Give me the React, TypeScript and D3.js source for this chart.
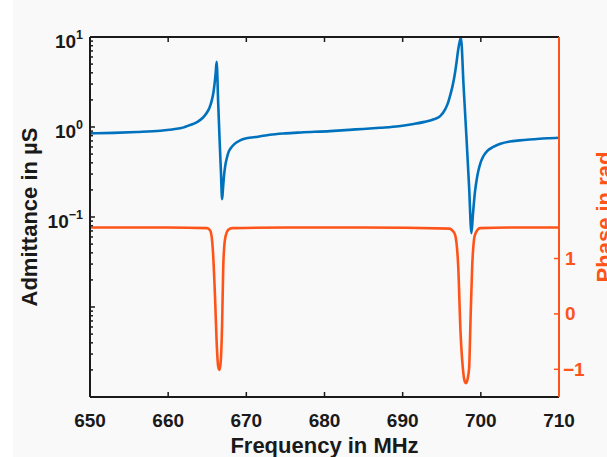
import React from "react";
import * as d3 from "d3";

// Admittance magnitude (µS) over frequency (MHz)
const admFreq = [
  650.0, 653.0, 656.0, 659.0, 660.5, 662.0, 662.5, 663.3, 663.8, 664.4, 664.9, 665.3,
  665.6, 665.8, 665.95, 666.08, 666.2, 666.4, 666.58, 666.75, 666.9, 667.0, 667.15,
  667.3, 667.5, 667.7, 668.0, 668.5, 669.2, 670.0, 671.5, 673.0, 675.0, 677.0, 680.7,
  684.0, 687.1, 689.5, 691.4, 692.8, 693.9, 694.8, 695.4, 695.8, 696.05, 696.4, 696.7,
  696.9, 697.1, 697.3, 697.45, 697.8, 698.15, 698.5, 698.8, 699.0, 699.25, 699.5,
  699.7, 700.0, 700.3, 700.8, 701.6, 702.5, 703.7, 705.0, 706.7, 708.5, 710.0,
];
const admittance = [
  0.85, 0.86, 0.88, 0.91, 0.94, 0.99, 1.03, 1.09, 1.15, 1.26, 1.42, 1.65,
  2.0, 2.45, 3.1, 4.0, 5.3, 1.85, 0.72, 0.32, 0.158, 0.2, 0.29,
  0.37, 0.45, 0.52, 0.58, 0.65, 0.71, 0.75, 0.78, 0.82, 0.85, 0.87, 0.9,
  0.94, 0.98, 1.02, 1.08, 1.14, 1.21, 1.32, 1.55, 1.85, 2.2, 2.9, 4.0,
  5.3, 7.2, 8.9, 9.8, 2.78, 0.8, 0.215, 0.066, 0.11, 0.19, 0.27,
  0.33, 0.41, 0.47, 0.54, 0.6, 0.65, 0.69, 0.71, 0.73, 0.75, 0.76,
];

// Phase (rad) over frequency (MHz)
const phaseFreq = [
  650.0, 660.0, 665.0, 665.4, 665.7, 666.0, 666.2, 666.4, 666.55, 666.7, 666.9, 667.05,
  667.3, 667.7, 668.2, 675.0, 685.0, 696.0, 696.4, 696.7, 697.1, 697.4, 697.7, 697.9,
  698.1, 698.3, 698.5, 698.7, 698.9, 699.25, 699.9, 705.0, 710.0,
];
const phase = [
  1.56, 1.56, 1.55, 1.5, 1.19, 0.29, -0.5, -0.95, -1.01, -0.9, -0.2, 0.88,
  1.37, 1.52, 1.55, 1.56, 1.56, 1.54, 1.5, 1.43, 0.88, -0.32, -0.98, -1.2,
  -1.25, -1.18, -0.98, -0.02, 0.88, 1.43, 1.55, 1.56, 1.56,
];

const xTicks = [650, 660, 670, 680, 690, 700, 710];
const leftLabelExponents = [1, 0, -1];
const phaseTicks = [-1, 0, 1];

const BLUE = "#0072BD";
const ORANGE = "#FF5419";
const AXIS = "#1a1a1a";
const FONT = "'Liberation Sans', Arial, Helvetica, sans-serif";

export default function App() {
  const W = 607;
  const H = 457;
  const left = 90;
  const right = 559;
  const top = 37;
  const bottom = 397;

  const x = d3.scaleLinear().domain([650, 710]).range([left, right]);
  const yL = d3.scaleLog().domain([1e-3, 1e1]).range([bottom, top]);
  const yR = d3.scaleLinear().domain([-1.5, 5]).range([bottom, top]);

  const admLine = d3
    .line<number>()
    .x((_, i) => x(admFreq[i]))
    .y((d) => yL(d))
    .curve(d3.curveMonotoneX);
  const phaseLine = d3
    .line<number>()
    .x((_, i) => x(phaseFreq[i]))
    .y((d) => yR(d))
    .curve(d3.curveMonotoneX);

  const logTicks = yL.ticks();
  const isMajor = (v: number) => Math.abs(Math.log10(v) - Math.round(Math.log10(v))) < 1e-6;

  return (
    <svg
      width={W}
      height={H}
      style={{ position: "absolute", left: 0, top: 0, background: "#f9f9f9" }}
      fontFamily={FONT}
      fontWeight="bold"
    >
      <rect x={0} y={0} width={13} height={H} fill="#ffffff" />
      <defs>
        <clipPath id="plotClip">
          <rect x={left} y={top - 1} width={right - left} height={bottom - top + 2} />
        </clipPath>
      </defs>

      {/* curves */}
      <g clipPath="url(#plotClip)" fill="none" strokeLinejoin="round" strokeLinecap="round">
        <path d={phaseLine(phase) || ""} stroke={ORANGE} strokeWidth={2.6} />
        <path d={admLine(admittance) || ""} stroke={BLUE} strokeWidth={2.6} />
      </g>

      {/* x ticks (bottom and top) */}
      <g stroke={AXIS} strokeWidth={1.5}>
        {xTicks.map((t) => (
          <g key={t}>
            <line x1={x(t)} x2={x(t)} y1={bottom} y2={bottom - 5} />
            <line x1={x(t)} x2={x(t)} y1={top} y2={top + 5} />
          </g>
        ))}
      </g>

      {/* left log ticks */}
      <g stroke={AXIS} strokeWidth={1.5}>
        {logTicks.map((t, i) => (
          <line key={i} x1={left} x2={left + (isMajor(t) ? 5 : 3)} y1={yL(t)} y2={yL(t)} />
        ))}
      </g>

      {/* right phase ticks */}
      <g stroke={ORANGE} strokeWidth={1.5}>
        {phaseTicks.map((t) => (
          <line key={t} x1={right} x2={right - 5} y1={yR(t)} y2={yR(t)} />
        ))}
      </g>

      {/* box */}
      <line x1={left} x2={right} y1={top} y2={top} stroke={AXIS} strokeWidth={2} />
      <line x1={left} x2={right} y1={bottom} y2={bottom} stroke={AXIS} strokeWidth={2} />
      <line x1={left} x2={left} y1={top} y2={bottom} stroke={AXIS} strokeWidth={2} />
      <line x1={right} x2={right} y1={top} y2={bottom} stroke={ORANGE} strokeWidth={2} />

      {/* x tick labels */}
      <g fontSize={19} fill={AXIS} textAnchor="middle">
        {xTicks.map((t) => (
          <text key={t} x={x(t)} y={427}>
            {t}
          </text>
        ))}
      </g>

      {/* left tick labels */}
      <g fill={AXIS}>
        {leftLabelExponents.map((e) => (
          <text key={e} x={83} y={yL(Math.pow(10, e)) + 11} textAnchor="end" fontSize={19}>
            <tspan>10</tspan>
            <tspan dy={-9} fontSize={12.5}>
              {e < 0 ? "\u2212" + Math.abs(e) : String(e)}
            </tspan>
          </text>
        ))}
      </g>

      {/* right tick labels */}
      <g fill={ORANGE} fontSize={19}>
        {phaseTicks.map((t) => (
          <text key={t} x={t < 0 ? 563 : 565} y={yR(t) + 6.5}>
            {t < 0 ? "\u2212" + Math.abs(t) : String(t)}
          </text>
        ))}
      </g>

      {/* axis titles */}
      <text x={(left + right) / 2} y={453} textAnchor="middle" fontSize={22} fill={AXIS}>
        Frequency in MHz
      </text>
      <text
        transform={`translate(37, ${(top + bottom) / 2}) rotate(-90)`}
        textAnchor="middle"
        fontSize={22}
        fill={AXIS}
      >
        Admittance in µS
      </text>
      <text
        transform={`translate(612, ${(top + bottom) / 2}) rotate(-90)`}
        textAnchor="middle"
        fontSize={22}
        fill={ORANGE}
      >
        Phase in rad
      </text>
    </svg>
  );
}
